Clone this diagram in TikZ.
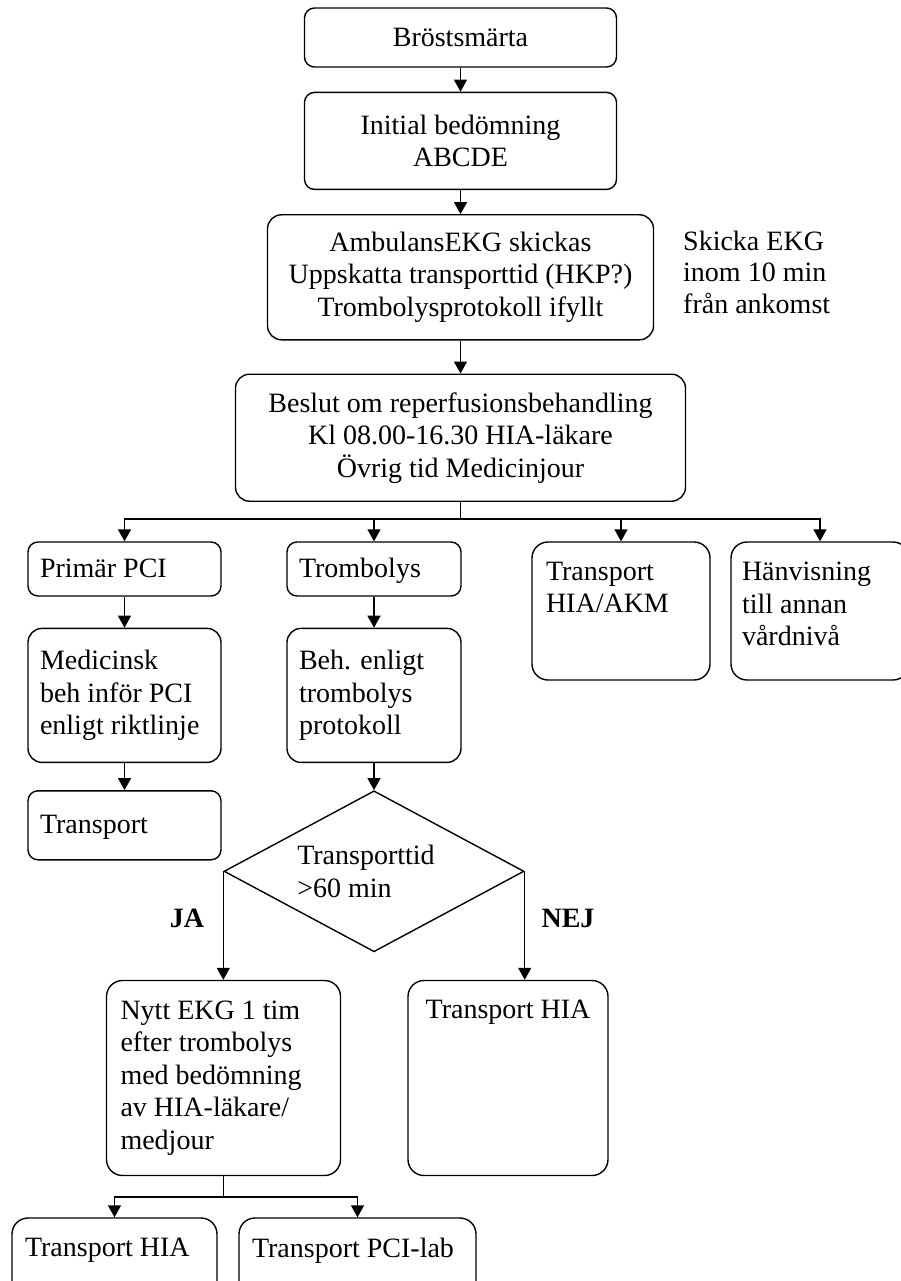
\documentclass[tikz,border=0pt]{standalone}
\usepackage{fontspec}
\setmainfont{Liberation Serif}
\usetikzlibrary{shapes.geometric, arrows.meta, positioning}
\newcommand{\toptext}[4][\raggedright]{\parbox[c][#2][t]{#3}{#1#4}}

\begin{document}
\begin{tikzpicture}[
  x=1pt, y=-1pt,
  box/.style={rectangle, draw, line width=1.4pt, rounded corners=10pt, align=center, inner sep=0pt, font=\fontsize{28}{32.5}\selectfont},
  leftbox/.style={box, align=flush left, inner xsep=12pt},
  oneline/.style={text height=22pt, text depth=5pt},
  tallbox/.style={rectangle, draw, line width=1.4pt, rounded corners=16pt, inner xsep=14pt, inner ysep=20pt, font=\fontsize{28}{32.5}\selectfont},
  choice/.style={diamond, draw, line width=1.4pt, aspect=2, inner sep=0pt, align=flush left, minimum width=300pt, minimum height=161pt, font=\fontsize{28}{32.5}\selectfont},
  note/.style={align=flush left, inner sep=0pt, font=\fontsize{28}{31.5}\selectfont},
  answer/.style={inner sep=0pt, font=\fontsize{28}{32.5}\selectfont\bfseries},
  arrow/.style={-{Triangle[length=12pt, width=13pt]}, line width=1.4pt},
  link/.style={line width=1.4pt}
]
  \useasboundingbox (0,0) rectangle (901,1281);
  \clip (0,0) rectangle (901,1281);

  % main chain
  \node[box, minimum width=312pt, minimum height=59pt] (brost) at (460.5,37.5) {Bröstsmärta};
  \node[box, minimum width=312pt, minimum height=97pt, below=24pt of brost] (initial) {Initial bedömning\\ABCDE};
  \node[box, rounded corners=14pt, minimum width=386pt, minimum height=125pt, below=24pt of initial] (ambulans) {AmbulansEKG skickas\\Uppskatta transporttid (HKP?)\\Trombolysprotokoll ifyllt};
  \node[box, rounded corners=14pt, minimum width=450pt, minimum height=127pt, below=33pt of ambulans] (beslut) {Beslut om reperfusionsbehandling\\Kl 08.00-16.30 HIA-läkare\\Övrig tid Medicinjour};
  \node[note, anchor=west] (skicka) at (683,272) {Skicka EKG\\inom 10 min\\från ankomst};

  % four choices
  \node[leftbox, oneline, text width=169pt, minimum height=54pt] (primar) at (124.5,569) {Primär PCI};
  \node[leftbox, oneline, text width=150pt, minimum height=54pt] (tromb) at (374,569) {Trombolys};
  \node[tallbox] (hiaakm) at (621,611) {\toptext{98pt}{150pt}{Transport\\HIA/AKM}};
  \node[tallbox, inner xsep=11pt] (hanv) at (820,611) {\toptext{98pt}{156pt}{Hänvisning\\till annan\\vårdnivå}};

  \node[leftbox, rounded corners=14pt, text width=169pt, minimum height=134pt, below=31pt of primar] (medicinsk) {Medicinsk\\beh inför PCI\\enligt riktlinje};
  \node[leftbox, oneline, text width=169pt, minimum height=69pt, below=27pt of medicinsk] (transp) {Transport};
  \node[leftbox, rounded corners=14pt, text width=150pt, minimum height=134pt, below=31pt of tromb] (behtromb) {Beh. enligt\\trombolys\\protokoll};

  \node[choice, below=27pt of behtromb] (tid) {Transporttid\hspace*{16pt}\\>60 min};
  \node[answer] (ja) at (187,918) {JA};
  \node[answer] (nej) at (568,918) {NEJ};

  \node[tallbox] (nytt) at (223.5,1078) {\toptext{155pt}{206pt}{Nytt EKG 1 tim\\efter trombolys\\med bedömning\\av HIA-läkare/\\medjour}};
  \node[tallbox] (hia) at (508,1078) {\toptext[\centering]{155pt}{172pt}{Transport HIA}};

  \node[tallbox, inner xsep=13pt] (hiatwo) at (114.5,1274) {\toptext{72pt}{179pt}{Transport HIA}};
  \node[tallbox, inner xsep=13pt] (pcilab) at (357.5,1274) {\toptext{72pt}{211pt}{Transport PCI-lab}};

  % connectors
  \coordinate (split) at (460.5,519);
  \coordinate (splittwo) at (223.5,1197);
  \draw[arrow] (brost) -- (initial);
  \draw[arrow] (initial) -- (ambulans);
  \draw[arrow] (ambulans) -- (beslut);
  \draw[link] (beslut) -- (split);
  \foreach \b in {primar, tromb, hiaakm, hanv}
    \draw[arrow] (split) -| (\b.north);
  \draw[arrow] (primar) -- (medicinsk);
  \draw[arrow] (medicinsk) -- (transp);
  \draw[arrow] (tromb) -- (behtromb);
  \draw[arrow] (behtromb) -- (tid);
  \draw[arrow] (tid.west) -- (tid.west |- nytt.north);
  \draw[arrow] (tid.east) -- (tid.east |- hia.north);
  \draw[link] (nytt) -- (splittwo);
  \foreach \b in {hiatwo, pcilab}
    \draw[arrow] (splittwo) -| (\b.north);
\end{tikzpicture}
\end{document}
